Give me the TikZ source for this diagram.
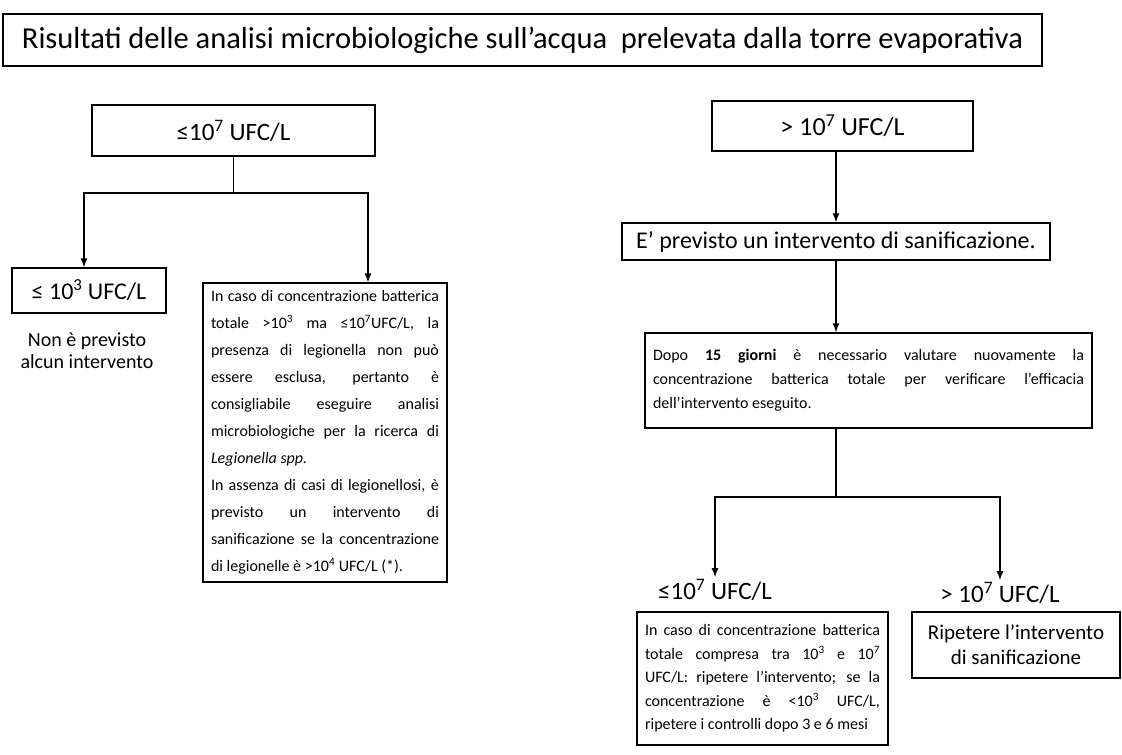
\documentclass[tikz,border=0pt]{standalone}
\usepackage{fontspec}
\setmainfont{Carlito}
\usetikzlibrary{arrows.meta}
\begin{document}
\begin{tikzpicture}[x=1pt,y=-1pt,
  box/.style={draw,line width=1.3pt,inner sep=0pt},
  txtbox/.style={box,align=justify,inner xsep=8pt,inner ysep=0pt},
  flow/.style={line width=1.3pt,-{Latex[length=9pt,width=7pt]}},
  link/.style={line width=1.3pt}]
\useasboundingbox (0,0) rectangle (1122,755);
\node[box,minimum width=1039pt,minimum height=52pt,font=\fontsize{30.5}{34}\selectfont] (T) at (522.5,40) {Risultati delle analisi microbiologiche sull’acqua\ \ prelevata dalla torre evaporativa};
\node[box,minimum width=283pt,minimum height=51pt,font=\fontsize{25}{28}\selectfont] (lowA) at (233.5,130.5) {≤10\textsuperscript{7} UFC/L};
\node[box,minimum width=261pt,minimum height=50pt,font=\fontsize{26}{28}\selectfont] (highA) at (842.5,126) {> 10\textsuperscript{7} UFC/L};
\node[box,minimum width=154pt,minimum height=45pt,font=\fontsize{24}{28}\selectfont] (lowB) at (89,290.5) {≤ 10\textsuperscript{3} UFC/L};
\node[align=center,font=\fontsize{20}{22}\selectfont] (noint) at (87,351) {Non è previsto\\alcun intervento};
\node[txtbox,text width=228pt,minimum height=299pt,font=\fontsize{16}{27}\selectfont] (midB) at (325,432.5) {In caso di concentrazione batterica\linebreak
totale >10\textsuperscript{3} ma ≤10\textsuperscript{7}UFC/L, la\linebreak
presenza di legionella non può\linebreak
essere esclusa, pertanto è\linebreak
consigliabile eseguire analisi\linebreak
microbiologiche per la ricerca di\linebreak
\textit{Legionella spp.}\par
In assenza di casi di legionellosi, è\linebreak
previsto un intervento di\linebreak
sanificazione se la concentrazione\linebreak
di legionelle è >10\textsuperscript{4} UFC/L (*).};
\node[box,minimum width=428pt,minimum height=37pt,font=\fontsize{24}{28}\selectfont] (sanif) at (836,241.5) {E’ previsto un intervento di sanificazione.};
\node[txtbox,text width=431pt,minimum height=95pt,font=\fontsize{16}{24}\selectfont] (dopo) at (868.5,380.5) {Dopo \textbf{15 giorni} è necessario valutare nuovamente la\linebreak
concentrazione batterica totale per verificare l’efficacia\linebreak
dell’intervento eseguito.};
\node[inner sep=2pt,font=\fontsize{25}{28}\selectfont] (lowC) at (715,590) {≤10\textsuperscript{7} UFC/L};
\node[inner sep=2pt,font=\fontsize{25}{28}\selectfont] (highC) at (1000,593) {> 10\textsuperscript{7} UFC/L};
\node[txtbox,text width=235pt,minimum height=133pt,font=\fontsize{16}{23.5}\selectfont] (lowD) at (762.5,678.5) {In caso di concentrazione batterica\linebreak
totale compresa tra 10\textsuperscript{3} e 10\textsuperscript{7}\linebreak
UFC/L: ripetere l’intervento; se la\linebreak
concentrazione è <10\textsuperscript{3} UFC/L,\linebreak
ripetere i controlli dopo 3 e 6 mesi};
\node[box,align=center,minimum width=208pt,minimum height=66pt,font=\fontsize{21}{25}\selectfont] (highD) at (1016,645) {Ripetere l’intervento\\di sanificazione};
\coordinate (forkA) at (233.5,193);
\draw[link] (lowA) -- (forkA);
\draw[flow] (forkA) -| ([xshift=-5pt]lowB.north);
\draw[flow] (forkA) -| ([xshift=43pt]midB.north);
\draw[flow] (highA.south -| sanif.north) -- (sanif.north);
\draw[flow] (sanif.south) -- (sanif.south |- dopo.north);
\coordinate (forkB) at (836,497);
\draw[link] (forkB |- dopo.south) -- (forkB);
\draw[flow] (forkB) -| (lowC.north);
\draw[flow] (forkB) -| (highC.north);
\end{tikzpicture}
\end{document}
